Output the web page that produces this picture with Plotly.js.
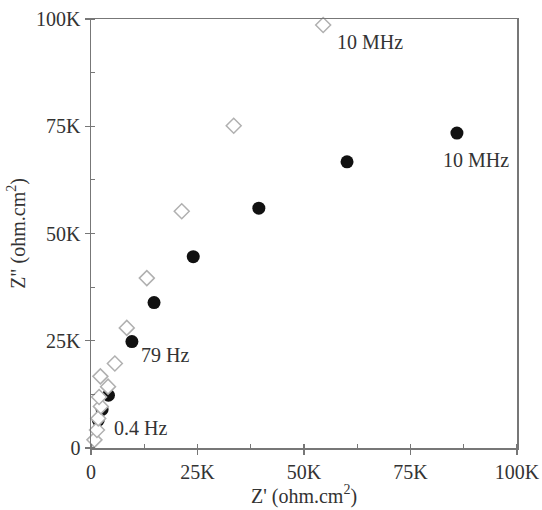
<!DOCTYPE html>
<html>
<head>
<meta charset="utf-8">
<script src="https://cdn.plot.ly/plotly-3.0.1.min.js"></script>
<style>html,body{margin:0;padding:0;background:#fff;}</style>
</head>
<body>
<div id="chart" style="width:542px;height:510px;"></div>
<script>
// Open diamonds (Z', Z'') in ohm.cm2
const diamondX = [800, 1400, 1700, 2300, 1900, 4000, 2200, 5600, 8400, 13100, 21300, 33500, 54500];
const diamondY = [1900, 4200, 6900, 9700, 11900, 14300, 16700, 19700, 28000, 39600, 55200, 75100, 98600];
// Filled circles
const circleX = [1700, 2600, 4100, 9600, 14800, 24000, 39400, 60100, 85900];
const circleY = [6500, 9000, 12300, 24800, 33900, 44600, 55900, 66700, 73400];
// Tick labels
const tickVals = [0, 25000, 50000, 75000, 100000];
const tickText = ["0", "25K", "50K", "75K", "100K"];
// Frequency labels
const labelText = ["79 Hz", "0.4 Hz", "10 MHz", "10 MHz"];
const labelX = [11300, 4900, 57300, 82200];
const labelY = [21700, 4700, 94600, 67100];

const font = "Liberation Serif, Times New Roman, serif";
const txtColor = "#333";
const axisColor = "#777";

const traces = [
  {
    x: circleX, y: circleY, mode: "markers", type: "scatter",
    marker: {symbol: "circle", size: 13, color: "#111", line: {width: 0}},
    cliponaxis: false, hoverinfo: "skip"
  },
  {
    x: diamondX, y: diamondY, mode: "markers", type: "scatter",
    marker: {symbol: "diamond", size: 11.5, color: "#fff", line: {color: "#b0b0b0", width: 1.5}},
    cliponaxis: false, hoverinfo: "skip"
  }
];

const axisBase = {
  range: [0, 100000],
  tickvals: tickVals, ticktext: tickText,
  showgrid: false, zeroline: false,
  showline: true, linecolor: axisColor, linewidth: 1.5, mirror: true,
  ticks: "outside", ticklen: 5, tickwidth: 1.2, tickcolor: axisColor,
  tickfont: {family: font, size: 20, color: txtColor},
  minor: {dtick: 12500, tick0: 0, ticks: "inside", ticklen: 4, tickwidth: 1.2, tickcolor: axisColor}
};

const layout = {
  width: 542, height: 510,
  margin: {l: 91, r: 25, t: 19, b: 62},
  paper_bgcolor: "#fff", plot_bgcolor: "#fff",
  showlegend: false,
  xaxis: Object.assign({}, axisBase, {
    title: {text: "Z' (ohm.cm<sup>2</sup>)", font: {family: font, size: 20, color: txtColor}, standoff: 6}
  }),
  yaxis: Object.assign({}, axisBase, {
    title: {text: "Z\" (ohm.cm<sup>2</sup>)", font: {family: font, size: 20, color: txtColor}, standoff: 5}
  }),
  annotations: labelText.map((t, i) => ({
    x: labelX[i], y: labelY[i], xref: "x", yref: "y",
    text: t, showarrow: false, xanchor: "left", yanchor: "middle",
    font: {family: font, size: 20, color: txtColor}
  }))
};

Plotly.newPlot("chart", traces, layout, {displayModeBar: false, staticPlot: true});
</script>
</body>
</html>
